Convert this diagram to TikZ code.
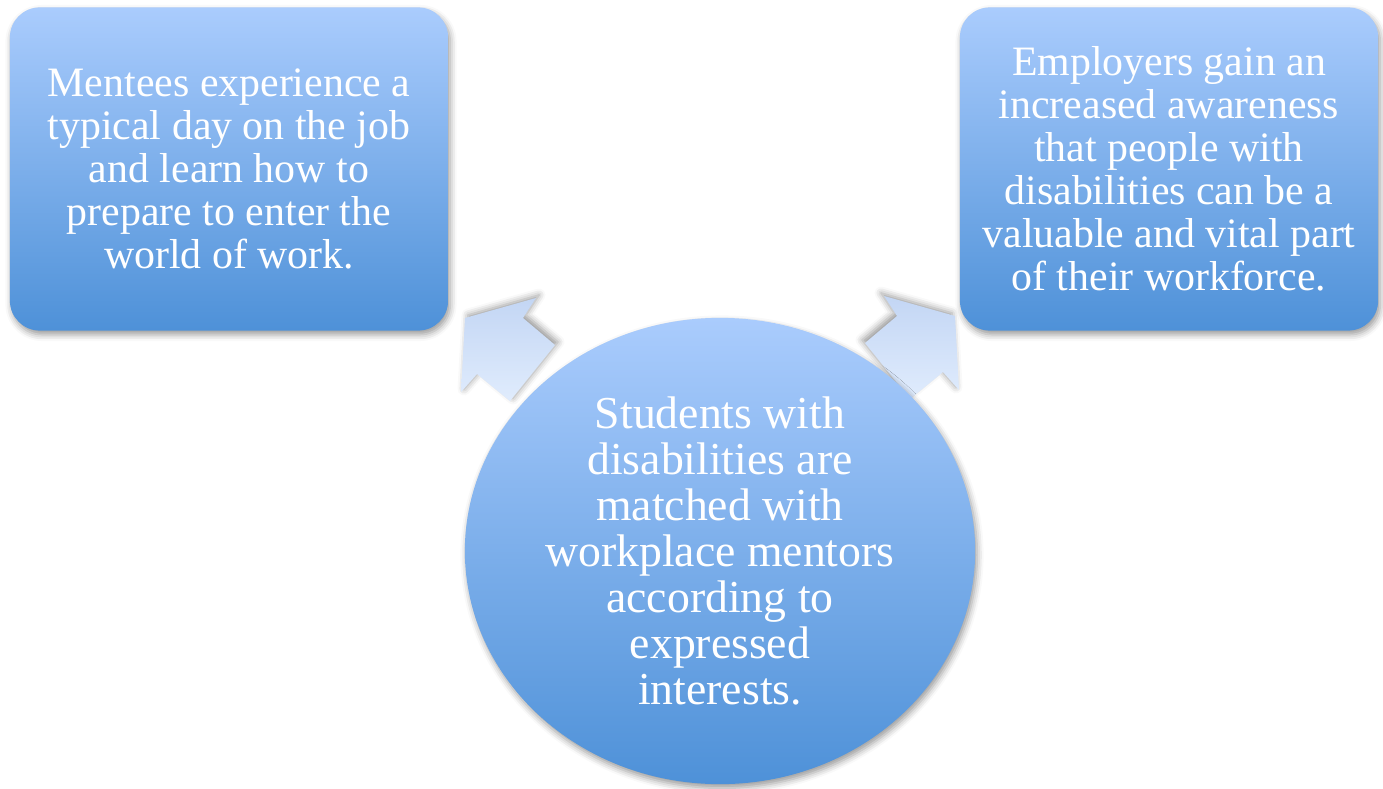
\documentclass[tikz,border=0pt]{standalone}
\usepackage{fontspec}
\setmainfont{Liberation Serif}
\usetikzlibrary{shapes.geometric,shadows.blur}

\definecolor{cardtop}{HTML}{AACCFD}
\definecolor{cardbot}{HTML}{4E91D8}
\definecolor{arrtop}{HTML}{C3D6F4}
\definecolor{arrbot}{HTML}{E0ECFD}

\begin{document}
\begin{tikzpicture}[x=0.01cm, y=-0.01cm,
		card/.style={rounded corners=0.3cm, top color=cardtop, bottom color=cardbot,
			text=white, align=center, inner sep=0pt,
			blur shadow={shadow xshift=0.02cm, shadow yshift=-0.04cm},
			font=\fontsize{11.9}{12.2}\selectfont},
		liftarrow/.style={top color=arrtop, bottom color=arrbot}]
		\useasboundingbox (0, 0) rectangle (1383, 788);

		% Outcome boxes
		\node[card, minimum width=4.38cm, minimum height=3.23cm] (mentee) at (229, 169)
			{Mentees experience a\\typical day on the job\\and learn how to\\prepare to enter the\\world of work.};
		\node[card, minimum width=4.18cm, minimum height=3.23cm] (employer) at (1169, 169)
			{Employers gain an\\increased awareness\\that people with\\disabilities can be a\\valuable and vital part\\of their workforce.};

		% Block arrows (tails run under the circle)
		\path[liftarrow, blur shadow={shadow xshift=0.03cm, shadow yshift=0.03cm}]
			(465, 318) -- (536, 298) -- (523, 318) -- (555, 345) -- (510, 401)
			-- (477, 374) -- (461, 392) -- cycle;
		\path[liftarrow, blur shadow={shadow xshift=-0.03cm, shadow yshift=0.03cm}]
			(955, 316) -- (884, 296) -- (897, 316) -- (865, 343) -- (910, 399)
			-- (943, 372) -- (959, 390) -- cycle;

		% Centre
		\node[card, ellipse, minimum width=5.1cm, minimum height=4.66cm,
			font=\fontsize{13}{13.1}\selectfont] (student) at (720, 551)
			{Students with\\disabilities are\\matched with\\workplace mentors\\according to\\expressed\\interests.};
	\end{tikzpicture}
\end{document}
